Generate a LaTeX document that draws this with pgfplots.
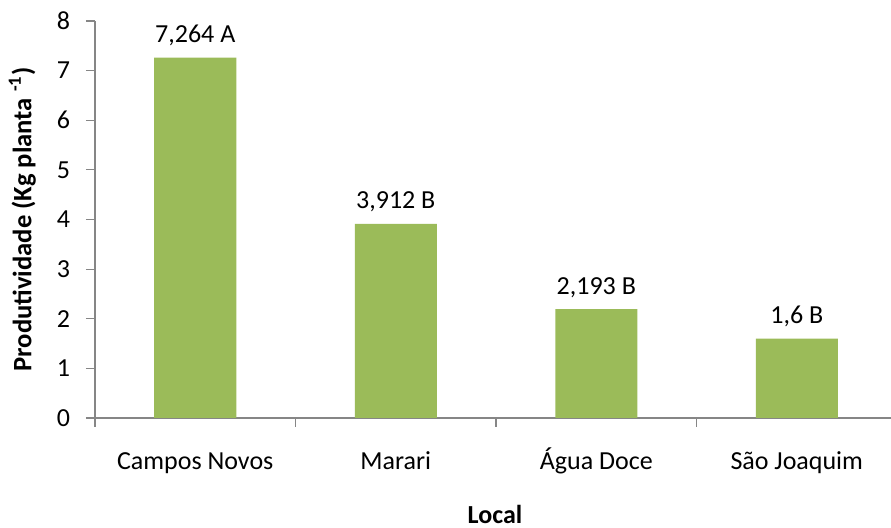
\documentclass[border=0pt]{standalone}
\usepackage{pgfplots}
\pgfplotsset{compat=1.18}
\usepackage{fontspec}
\setmainfont{Carlito}
\definecolor{bargreen}{HTML}{9BBB59}
\definecolor{axgray}{HTML}{868686}
\begin{document}
\begin{tikzpicture}
\begin{axis}[
  name=ax,
  scale only axis,
  width=398pt, height=198.5pt,
  xmin=-0.5, xmax=3.47,
  ymin=0, ymax=8,
  ytick={0,1,2,3,4,5,6,7,8},
  axis x line*=bottom,
  axis y line*=left,
  axis line style={draw=axgray, line width=0.6pt},
  tick style={draw=axgray, line width=0.6pt},
  tick align=outside,
  major tick length=4.5pt,
  xtick={-0.5,0.5,1.5,2.5},
  xticklabels={},
  extra x ticks={0,1,2,3},
  extra x tick labels={Campos Novos,Marari,Água Doce,São Joaquim},
  extra x tick style={major tick length=0pt, tick style={draw=none}},
  /pgf/number format/assume math mode=true,
  ticklabel style={font=\fontsize{13}{15}\selectfont, text=black},
  xticklabel style={anchor=base, yshift=-26pt},
  yticklabel style={xshift=-4.5pt},
  xlabel={\textbf{Local}},
  ylabel={\textbf{Produtividade (Kg planta \textsuperscript{-1})}},
  every axis x label/.style={at={(axis description cs:0.5025,-0.267)}, anchor=base, font=\fontsize{13}{15}\selectfont},
  every axis y label/.style={at={(axis description cs:-0.08,0.5)}, rotate=90, anchor=base, font=\fontsize{13.3}{15}\selectfont},
  ybar, bar width=41pt,
  point meta=explicit symbolic,
  nodes near coords,
  every node near coord/.append style={anchor=base, yshift=7.5pt, font=\fontsize{13}{15}\selectfont, text=black},
  clip=false,
]
\addplot[fill=bargreen, draw=none] coordinates {
  (0,7.264) [7,264 A]
  (1,3.912) [3,912 B]
  (2,2.193) [2,193 B]
  (3,1.6) [1,6 B]
};
\end{axis}
\pgfresetboundingbox
\path ([xshift=-47.5pt,yshift=-55pt]ax.south west) rectangle ([yshift=10.5pt]ax.north east);
\end{tikzpicture}
\end{document}
